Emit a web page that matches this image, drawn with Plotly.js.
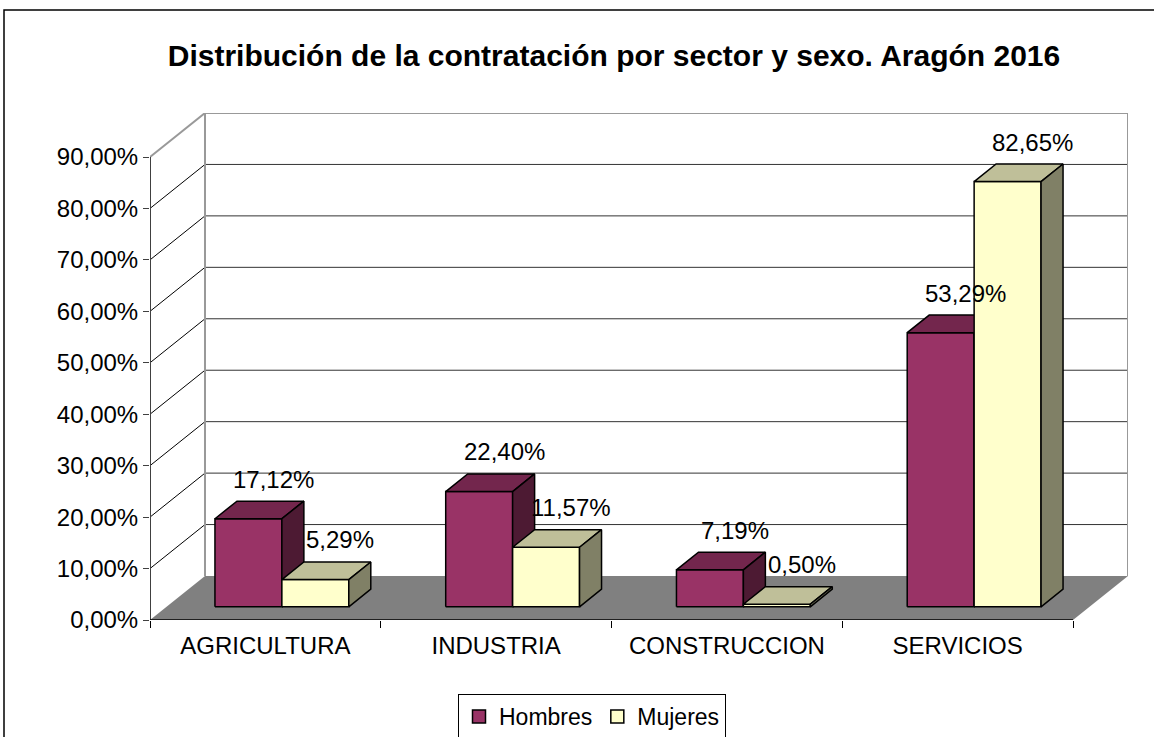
<!DOCTYPE html>
<html><head><meta charset="utf-8">
<script src="https://cdn.plot.ly/plotly-3.0.1.min.js"></script>
<style>html,body{margin:0;padding:0;background:#fff}</style>
</head><body><div id="chart" style="width:1154px;height:737px"></div>
<script>
// ---- data ----
const categories = ['AGRICULTURA', 'INDUSTRIA', 'CONSTRUCCION', 'SERVICIOS'];
const seriesNames = ['Hombres', 'Mujeres'];
const hombres = [17.12, 22.40, 7.19, 53.29];
const mujeres = [5.29, 11.57, 0.50, 82.65];
const yTickVals = [0, 10, 20, 30, 40, 50, 60, 70, 80, 90];
const yTickText = ['0,00%', '10,00%', '20,00%', '30,00%', '40,00%', '50,00%', '60,00%', '70,00%', '80,00%', '90,00%'];
const titleText = 'Distribución de la contratación por sector y sexo. Aragón 2016';

// ---- styling / 3D geometry ----
const FONT = 'Liberation Sans, Arial, sans-serif';
const DX = 0.2383;   // floor depth, x units
const DY = 8.553;    // floor depth, y units
const F0 = 0.3;      // bar front depth fraction
const FD = 0.4;      // bar depth fraction
const W = 0.29;      // bar width (category units)
const yMax = yTickVals[yTickVals.length - 1];
const xMin = -0.5, xMax = categories.length - 0.5;
const colors = [
  {front: '#993366', top: '#73264d', side: '#4d1a33'},
  {front: '#ffffcc', top: '#bfbf99', side: '#808066'}
];
const values = [hombres, mujeres];
const fmt = v => v.toFixed(2).replace('.', ',') + '%';

const traces = [];
const annotations = [];
values.forEach((vals, s) => {
  const faces = {front: {x: [], y: []}, top: {x: [], y: []}, side: {x: [], y: []}};
  const ddx = FD * DX, ddy = FD * DY;
  vals.forEach((v, i) => {
    const cx = i + F0 * DX;
    const x0 = s === 0 ? cx - W : cx;
    const x1 = x0 + W;
    const b = F0 * DY, t = b + v;
    const add = (f, xs, ys) => { f.x.push(...xs, null); f.y.push(...ys, null); };
    add(faces.front, [x0, x1, x1, x0, x0], [b, b, t, t, b]);
    add(faces.top, [x0, x1, x1 + ddx, x0 + ddx, x0], [t, t, t + ddy, t + ddy, t]);
    add(faces.side, [x1, x1 + ddx, x1 + ddx, x1, x1], [b, b + ddy, t + ddy, t, b]);
    annotations.push({
      x: x0 + W / 2 + ddx, y: t + ddy, xref: 'x', yref: 'y',
      text: fmt(v), showarrow: false, xshift: 3, yshift: 22,
      xanchor: 'center', yanchor: 'middle',
      font: {family: FONT, size: 24, color: '#000'}
    });
  });
  ['front', 'top', 'side'].forEach(k => {
    traces.push({
      type: 'scatter', mode: 'lines', x: faces[k].x, y: faces[k].y,
      fill: 'toself', fillcolor: colors[s][k],
      line: {color: '#000', width: 1.5}, hoverinfo: 'skip', showlegend: false
    });
  });
});
// legend entries
seriesNames.forEach((n, s) => {
  traces.push({
    type: 'scatter', mode: 'markers', x: [null], y: [null], name: n,
    marker: {symbol: 'square', size: 13, color: colors[s].front, line: {color: '#000', width: 1.5}},
    showlegend: true, hoverinfo: 'skip'
  });
});

// ---- walls, floor, grid ----
const shapes = [];
shapes.push({type: 'path', xref: 'x', yref: 'y', layer: 'below',
  path: `M ${xMin},0 L ${xMax},0 L ${xMax + DX},${DY} L ${xMin + DX},${DY} Z`,
  fillcolor: '#808080', line: {width: 0}});
yTickVals.forEach(v => {
  if (v > 0 && v < yMax) {
    shapes.push({type: 'line', xref: 'x', yref: 'y', layer: 'below',
      x0: xMin + DX, x1: xMax + DX, y0: v + DY, y1: v + DY, line: {color: '#333', width: 1}});
    shapes.push({type: 'line', xref: 'x', yref: 'y', layer: 'below',
      x0: xMin, x1: xMin + DX, y0: v, y1: v + DY, line: {color: '#000', width: 1}});
  }
});
// back wall frame
shapes.push({type: 'path', xref: 'x', yref: 'y', layer: 'below',
  path: `M ${xMin + DX},${DY} L ${xMin + DX},${yMax + DY} L ${xMax + DX},${yMax + DY} L ${xMax + DX},${DY}`,
  line: {color: '#999', width: 2}});
shapes.push({type: 'line', xref: 'x', yref: 'y', layer: 'below',
  x0: xMin, x1: xMin + DX, y0: yMax, y1: yMax + DY, line: {color: '#999', width: 2}});
// front axes
shapes.push({type: 'line', xref: 'x', yref: 'y', layer: 'below',
  x0: xMin, x1: xMin, y0: 0, y1: yMax, line: {color: '#404040', width: 2}});
shapes.push({type: 'line', xref: 'x', yref: 'y', layer: 'below',
  x0: xMin, x1: xMax, y0: 0, y1: 0, line: {color: '#000', width: 1.5}});
// chart border
const L = 150, R = 26, T = 113, B = 117, PW = 1154 - L - R, PH = 737 - T - B;
shapes.push({type: 'rect', xref: 'paper', yref: 'paper', layer: 'below',
  x0: (4 - L) / PW, x1: (1170 - L) / PW, y0: (737 - B - 750) / PH, y1: (737 - B - 10) / PH,
  line: {color: '#000', width: 1.5}, fillcolor: 'rgba(0,0,0,0)'});

const boundaries = categories.map((_, i) => i - 0.5).concat([xMax]);

const layout = {
  width: 1154, height: 737, autosize: false,
  margin: {l: L, r: R, t: T, b: B, autoexpand: false},
  paper_bgcolor: '#fff', plot_bgcolor: 'rgba(0,0,0,0)',
  title: {text: titleText, x: 614 / 1154, xanchor: 'center', y: 1 - 55 / 737, yanchor: 'middle',
    xref: 'container', yref: 'container',
    font: {family: FONT, size: 30, color: '#000', weight: 'bold'}},
  xaxis: {range: [xMin, xMax + DX], tickmode: 'array', tickvals: categories.map((_, i) => i),
    ticktext: categories, ticks: '', showgrid: false, zeroline: false, showline: false,
    ticklabelstandoff: 9,
    tickfont: {family: FONT, size: 24, color: '#000'}, fixedrange: true, automargin: false,
    minor: {tickmode: 'array', tickvals: boundaries, ticks: 'outside', ticklen: 7, tickwidth: 1, tickcolor: '#000', showgrid: false}},
  yaxis: {range: [0, yMax + DY], tickmode: 'array', tickvals: yTickVals, ticktext: yTickText,
    ticks: 'outside', ticklen: 6, tickwidth: 1, tickcolor: '#404040',
    showgrid: false, zeroline: false, showline: false, automargin: false,
    tickfont: {family: FONT, size: 24, color: '#000'}, fixedrange: true},
  showlegend: true,
  legend: {orientation: 'h', x: (458 - L) / PW, y: (737 - B - 694) / PH, xanchor: 'left', yanchor: 'top',
    bordercolor: '#000', borderwidth: 1, bgcolor: '#fff',
    font: {family: FONT, size: 23, color: '#000'}},
  shapes: shapes,
  annotations: annotations
};
Plotly.newPlot('chart', traces, layout, {displayModeBar: false, staticPlot: true});
</script></body></html>
